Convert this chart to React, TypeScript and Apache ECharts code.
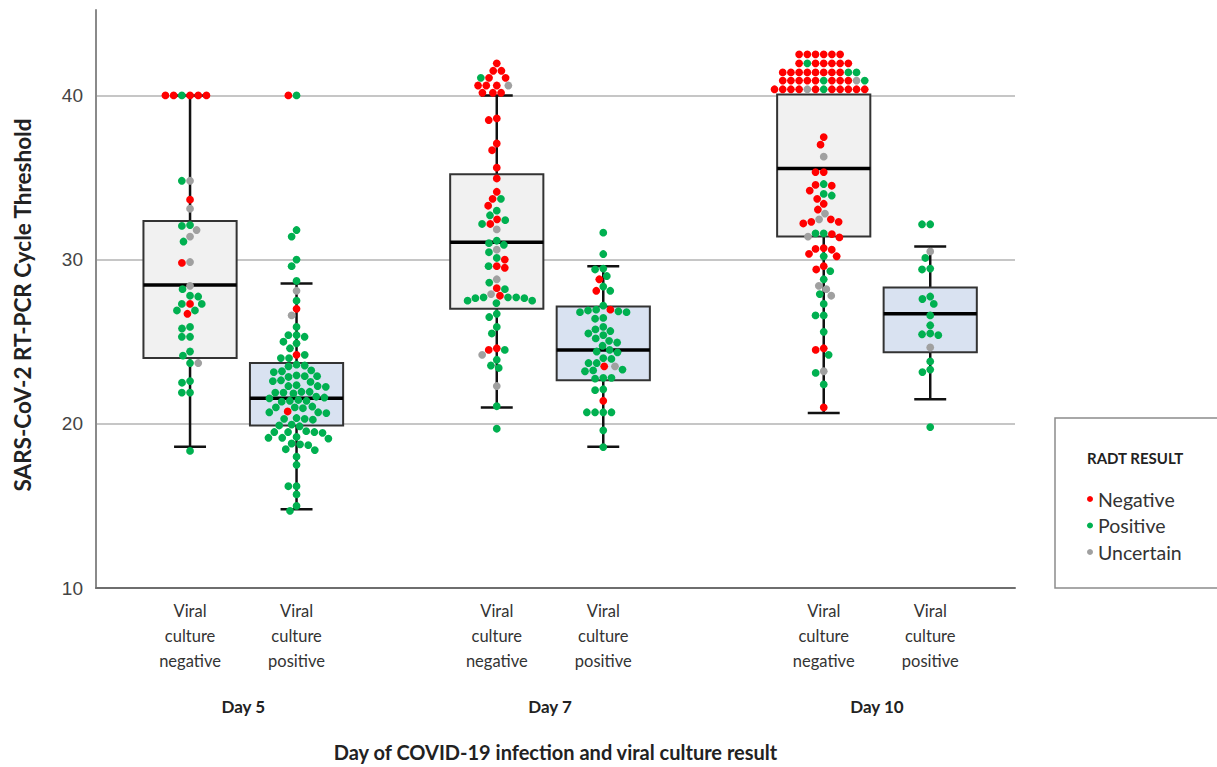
import { useEffect, useRef } from 'react';
import * as echarts from 'echarts';

type Dot = [number, 'N' | 'P' | 'U'];

// ---------- data ----------
const dayLabels = ['Day 5', 'Day 7', 'Day 10'];
const cultureLabels = ['Viral\nculture\nnegative', 'Viral\nculture\npositive'];
const legendNames = ['Negative', 'Positive', 'Uncertain'];
const resultCodes = ['N', 'P', 'U'];

// box statistics, order: D5 neg, D5 pos, D7 neg, D7 pos, D10 neg, D10 pos
const boxMin = [18.6, 14.8, 21.0, 18.6, 20.65, 21.5];
const boxQ1 = [24.0, 19.9, 27.0, 22.65, 31.4, 24.35];
const boxMedian = [28.45, 21.55, 31.05, 24.5, 35.55, 26.7];
const boxQ3 = [32.35, 23.7, 35.2, 27.15, 40.05, 28.3];
const boxMax = [40, 28.55, 40, 29.6, 40.05, 30.8];

const d5Neg: Dot[] = [
  [40, 'N'], [40, 'P'], [40, 'N'], [40, 'N'], [40, 'N'], [40, 'N'],
  [34.8, 'U'], [34.8, 'P'], [33.65, 'N'], [33.1, 'U'], [32.05, 'P'], [32.1, 'P'],
  [31.8, 'U'], [31.4, 'U'], [31.1, 'P'], [29.85, 'U'], [29.8, 'N'], [28.4, 'U'],
  [28.2, 'P'], [27.75, 'P'], [27.8, 'P'], [27.3, 'N'], [27.3, 'P'], [27.3, 'P'],
  [26.9, 'P'], [26.7, 'N'], [26.9, 'P'], [25.9, 'P'], [25.8, 'P'], [25.3, 'P'],
  [25.3, 'P'], [24.4, 'P'], [24.15, 'P'], [23.7, 'P'], [23.7, 'U'], [22.5, 'P'],
  [22.6, 'P'], [21.9, 'P'], [21.9, 'P'], [18.35, 'P'],
];
const d5Pos: Dot[] = [
  [40, 'P'], [40, 'N'], [31.8, 'P'], [31.4, 'P'], [30.0, 'P'], [29.6, 'P'],
  [28.7, 'P'], [28.1, 'U'], [27.5, 'P'], [27.0, 'N'], [26.6, 'U'], [25.9, 'P'],
  [25.4, 'P'], [25.4, 'P'], [25.3, 'P'], [24.9, 'P'], [25.0, 'P'], [24.6, 'P'],
  [24.2, 'N'], [24.2, 'P'], [24.0, 'P'], [24.0, 'P'],
  [23.55, 'P'], [23.5, 'P'], [23.6, 'P'], [23.2, 'P'], [23.25, 'P'], [23.15, 'P'],
  [22.9, 'P'], [22.95, 'P'], [22.85, 'P'], [22.9, 'P'], [22.6, 'P'], [22.55, 'P'],
  [22.65, 'P'], [22.3, 'P'], [22.3, 'P'], [22.25, 'P'], [22.35, 'P'], [21.9, 'P'],
  [21.95, 'P'], [21.85, 'P'], [21.9, 'P'], [21.95, 'P'], [21.6, 'P'], [21.55, 'P'],
  [21.65, 'P'], [21.4, 'P'], [21.35, 'P'], [21.45, 'P'], [21.4, 'P'], [21.0, 'P'],
  [21.05, 'P'], [20.95, 'P'], [21.0, 'P'], [20.75, 'N'], [20.7, 'P'], [20.65, 'P'],
  [20.7, 'P'], [20.3, 'P'], [20.35, 'P'], [20.25, 'P'], [20.3, 'P'], [19.9, 'P'],
  [19.95, 'P'], [19.85, 'P'], [19.5, 'P'], [19.55, 'P'], [19.45, 'P'], [19.5, 'P'],
  [19.5, 'P'], [19.15, 'P'], [19.2, 'P'], [19.1, 'P'], [19.15, 'P'], [18.75, 'P'],
  [18.7, 'P'], [18.8, 'P'], [18.45, 'P'], [18.4, 'P'], [18.0, 'P'], [17.5, 'P'],
  [16.2, 'P'], [16.2, 'P'], [15.7, 'P'], [15.0, 'P'], [14.7, 'P'],
];
const d7Neg: Dot[] = [
  [41.95, 'N'], [41.5, 'N'], [41.5, 'N'], [41.07, 'N'], [41.07, 'N'], [41.07, 'P'],
  [40.6, 'N'], [40.6, 'N'], [40.6, 'U'], [40.6, 'N'], [40.16, 'N'], [40.16, 'N'],
  [40.16, 'N'], [38.5, 'N'], [38.6, 'N'], [37.07, 'N'], [36.66, 'N'], [35.6, 'N'],
  [34.94, 'N'], [34.13, 'N'], [33.7, 'N'], [33.7, 'P'], [33.28, 'N'], [32.98, 'P'],
  [32.7, 'P'], [32.4, 'P'], [32.45, 'N'], [32.17, 'N'], [32.17, 'P'], [31.84, 'U'],
  [30.9, 'P'], [31.0, 'P'], [31.15, 'P'], [30.6, 'U'], [30.45, 'P'], [30.1, 'P'],
  [30.0, 'N'], [29.5, 'N'], [29.6, 'N'], [29.6, 'P'], [28.8, 'U'], [28.6, 'P'],
  [28.26, 'N'], [28.2, 'P'], [27.9, 'U'], [27.8, 'N'], [27.7, 'P'], [27.65, 'P'],
  [27.5, 'P'], [27.7, 'P'], [27.7, 'P'], [27.65, 'P'], [27.5, 'P'], [27.35, 'P'],
  [26.7, 'P'], [26.5, 'P'], [25.9, 'P'], [25.5, 'P'], [24.5, 'N'], [24.6, 'N'],
  [24.5, 'P'], [24.2, 'U'], [23.9, 'P'], [23.4, 'P'], [23.55, 'P'], [22.3, 'U'],
  [21.07, 'P'], [19.7, 'P'],
];
const d7Pos: Dot[] = [
  [31.64, 'P'], [30.34, 'P'], [29.4, 'P'], [29.45, 'P'], [29.0, 'P'], [28.8, 'N'],
  [28.36, 'P'], [28.1, 'N'], [28.1, 'P'], [27.2, 'P'], [26.8, 'P'], [26.95, 'P'],
  [26.95, 'N'], [26.9, 'P'], [26.85, 'P'], [26.8, 'P'], [26.4, 'P'], [26.45, 'P'],
  [25.9, 'P'], [25.75, 'P'], [25.65, 'P'], [25.4, 'P'], [25.5, 'P'], [25.2, 'P'],
  [25.05, 'P'], [24.95, 'P'], [24.75, 'P'], [24.5, 'P'], [24.4, 'P'], [24.35, 'P'],
  [24.0, 'P'], [23.95, 'P'], [23.7, 'P'], [23.7, 'P'], [23.5, 'N'], [23.3, 'P'],
  [23.2, 'P'], [23.5, 'U'], [23.25, 'P'], [22.8, 'P'], [22.8, 'P'], [22.75, 'P'],
  [22.1, 'P'], [22.05, 'P'], [21.4, 'N'], [20.7, 'P'], [20.7, 'P'], [20.7, 'P'],
  [20.7, 'P'], [19.6, 'P'], [18.58, 'P'],
];
const d10Neg: Dot[] = [
  [42.5, 'N'], [42.5, 'N'], [42.5, 'N'], [42.5, 'N'], [42.5, 'N'], [42.5, 'N'],
  [41.95, 'N'], [41.95, 'N'], [41.95, 'N'], [41.95, 'P'], [41.95, 'N'], [41.95, 'N'], [41.95, 'N'],
  [41.4, 'N'], [41.4, 'N'], [41.4, 'N'], [41.4, 'N'], [41.4, 'N'], [41.4, 'N'], [41.4, 'P'],
  [41.4, 'N'], [41.4, 'P'], [41.4, 'N'],
  [40.9, 'P'], [40.9, 'N'], [40.9, 'N'], [40.9, 'N'], [40.9, 'N'], [40.9, 'N'], [40.9, 'N'],
  [40.9, 'N'], [40.9, 'U'], [40.9, 'N'], [40.9, 'P'],
  [40.37, 'P'], [40.37, 'N'], [40.37, 'N'], [40.37, 'U'], [40.37, 'N'], [40.37, 'N'],
  [40.37, 'N'], [40.37, 'N'], [40.37, 'N'], [40.37, 'N'], [40.37, 'N'], [40.37, 'N'],
  [37.46, 'N'], [37.0, 'N'], [36.27, 'U'], [35.33, 'N'], [35.33, 'N'], [34.5, 'N'],
  [34.6, 'P'], [34.55, 'N'], [34.2, 'N'], [33.9, 'P'], [34.0, 'P'], [33.7, 'N'],
  [33.4, 'N'], [33.05, 'N'], [32.8, 'U'], [32.45, 'U'], [32.2, 'N'], [32.3, 'N'],
  [32.3, 'N'], [32.45, 'N'], [31.6, 'P'], [31.55, 'N'], [31.6, 'P'], [31.35, 'N'],
  [31.4, 'U'], [30.6, 'N'], [30.7, 'N'], [30.65, 'N'], [30.2, 'P'], [30.35, 'N'],
  [30.2, 'N'], [29.6, 'N'], [29.4, 'N'], [29.3, 'P'], [28.8, 'P'], [28.4, 'U'],
  [28.2, 'U'], [27.8, 'U'], [27.9, 'P'], [27.3, 'P'], [26.6, 'P'], [26.6, 'P'],
  [25.6, 'P'], [24.6, 'N'], [24.5, 'N'], [24.2, 'P'], [23.1, 'P'], [23.2, 'U'],
  [22.4, 'P'], [21.0, 'N'],
];
const d10Pos: Dot[] = [
  [32.15, 'P'], [32.15, 'P'], [30.5, 'U'], [30.1, 'P'], [29.45, 'P'], [29.4, 'P'],
  [27.75, 'P'], [27.6, 'P'], [27.3, 'P'], [26.6, 'P'], [26.0, 'P'], [25.4, 'P'],
  [25.5, 'P'], [25.45, 'P'], [24.65, 'U'], [23.8, 'P'], [23.15, 'P'], [23.3, 'P'],
  [19.8, 'P'],
];
const groupDots: Dot[][] = [d5Neg, d5Pos, d7Neg, d7Pos, d10Neg, d10Pos];

// ---------- layout ----------
const W = 1217;
const H = 767;
const GRID = { left: 96, right: 202, top: 10, bottom: 179 };
const X_MIN = 0.117;
const X_MAX = 8.746;
const Y_MIN = 10;
const Y_MAX = 45.2;
const SLOT_POS = [1, 2, 3.88, 4.88, 6.95, 7.95];
const DAY_POS = [1.5, 4.38, 7.45];
const BOX_W = 0.875;
const CAP_W = 0.3;
const DOT_SIZE = 7.8;
const DOT_GAP = 8.2;
const COLORS = ['#ff0000', '#00b050', '#a0a0a0'];

const X_SCALE = (W - GRID.left - GRID.right) / (X_MAX - X_MIN);
const Y_SCALE = (H - GRID.top - GRID.bottom) / (Y_MAX - Y_MIN);

function swarm(vals: number[]): number[] {
  const order = vals.map((_, i) => i).sort((a, b) => vals[b] - vals[a]);
  const placed: { x: number; y: number }[] = [];
  const out = new Array(vals.length).fill(0);
  for (const i of order) {
    const y = vals[i] * Y_SCALE;
    const ivs: [number, number][] = [];
    for (const p of placed) {
      const dy = Math.abs(p.y - y);
      if (dy < DOT_GAP) {
        const h = Math.sqrt(DOT_GAP * DOT_GAP - dy * dy);
        ivs.push([p.x - h, p.x + h]);
      }
    }
    const cands = [0];
    ivs.forEach(([a, b]) => cands.push(a, b));
    cands.sort((a, b) => Math.abs(a) - Math.abs(b) || a - b);
    let xx = 0;
    for (const c of cands) {
      if (ivs.every(([a, b]) => c <= a + 1e-6 || c >= b - 1e-6)) {
        xx = c;
        break;
      }
    }
    placed.push({ x: xx, y });
    out[i] = xx / X_SCALE;
  }
  return out;
}

function buildOption() {
  const boxData = SLOT_POS.map((p, i) => [p, boxMin[i], boxQ1[i], boxMedian[i], boxQ3[i], boxMax[i], i % 2]);

  const pointsByResult: number[][][] = [[], [], []];
  groupDots.forEach((dots, g) => {
    const offs = swarm(dots.map((d) => d[0]));
    dots.forEach((d, k) => {
      const r = resultCodes.indexOf(d[1]);
      pointsByResult[r].push([SLOT_POS[g] + offs[k], d[0]]);
    });
  });

  const labelFont = 'Lato, "Open Sans", sans-serif';

  return {
    animation: false,
    backgroundColor: '#ffffff',
    grid: { ...GRID, containLabel: false, outerBoundsMode: 'none' },
    legend: {
      data: legendNames,
      orient: 'vertical',
      left: 1082,
      top: 484,
      icon: 'circle',
      itemWidth: 6,
      itemHeight: 6,
      itemGap: 6.5,
      textStyle: { fontFamily: labelFont, fontSize: 19.5, color: '#333333' },
      selectedMode: false,
    },
    graphic: [
      {
        type: 'rect',
        z: -1,
        shape: { x: 1055, y: 418, width: 200, height: 170 },
        style: { fill: '#ffffff', stroke: '#8c8c8c', lineWidth: 1.5 },
      },
      {
        type: 'text',
        x: 1087,
        y: 458,
        style: {
          text: 'RADT RESULT',
          fontFamily: labelFont,
          fontWeight: 'bold',
          fontSize: 15,
          fill: '#222222',
          verticalAlign: 'middle',
        },
      },
    ],
    xAxis: [
      {
        type: 'value',
        min: X_MIN,
        max: X_MAX,
        axisLine: { show: true, onZero: false, lineStyle: { color: '#6e6e6e', width: 2 } },
        axisTick: { show: false },
        splitLine: { show: false },
        axisLabel: {
          customValues: SLOT_POS,
          formatter: (v: number) => {
            const i = SLOT_POS.findIndex((p) => Math.abs(p - v) < 1e-6);
            return i < 0 ? '' : cultureLabels[i % 2];
          },
          margin: 10,
          fontFamily: labelFont,
          fontSize: 16.5,
          lineHeight: 25,
          color: '#333333',
        },
      },
      {
        type: 'value',
        position: 'bottom',
        min: X_MIN,
        max: X_MAX,
        axisLine: { show: false, onZero: false },
        axisTick: { show: false },
        splitLine: { show: false },
        axisLabel: {
          customValues: DAY_POS,
          formatter: (v: number) => {
            const i = DAY_POS.findIndex((p) => Math.abs(p - v) < 1e-6);
            return i < 0 ? '' : dayLabels[i];
          },
          margin: 110,
          fontFamily: labelFont,
          fontWeight: 'bold',
          fontSize: 17,
          color: '#222222',
        },
        name: 'Day of COVID-19 infection and viral culture result',
        nameLocation: 'middle',
        nameGap: 154,
        nameTextStyle: { fontFamily: labelFont, fontWeight: 'bold', fontSize: 20, color: '#222222' },
      },
    ],
    yAxis: {
      type: 'value',
      min: Y_MIN,
      max: Y_MAX,
      interval: 10,
      axisLine: { show: true, lineStyle: { color: '#8a8a8a', width: 2 } },
      axisTick: { show: false },
      axisLabel: {
        showMaxLabel: false,
        formatter: (v: number) => (v % 10 === 0 ? String(v) : ''),
        margin: 13,
        fontFamily: '"Liberation Sans", Arial, sans-serif',
        fontSize: 19,
        color: '#444444',
      },
      splitLine: { show: true, showMinLine: false, showMaxLine: false, lineStyle: { color: '#c6c6c6', width: 2 } },
      name: 'SARS-CoV-2 RT-PCR Cycle Threshold',
      nameLocation: 'middle',
      nameGap: 62,
      nameTextStyle: { fontFamily: labelFont, fontWeight: 'bold', fontSize: 22.5, color: '#222222', padding: [0, 12, 0, 0] },
    },
    series: [
      {
        type: 'custom',
        name: 'boxes',
        xAxisIndex: 0,
        z: 1,
        silent: true,
        encode: { x: 0, y: [1, 2, 3, 4, 5] },
        data: boxData,
        renderItem: (_params: any, api: any) => {
          const x = api.value(0);
          const c = (v: number) => api.coord([x, v]);
          const [cx, yMin] = c(api.value(1));
          const yQ1 = c(api.value(2))[1];
          const yMed = c(api.value(3))[1];
          const yQ3 = c(api.value(4))[1];
          const yMax = c(api.value(5))[1];
          const halfW = api.size([BOX_W, 0])[0] / 2;
          const capHalf = api.size([CAP_W, 0])[0] / 2;
          const fill = api.value(6) === 0 ? '#f1f1f1' : '#d9e2f1';
          const ws = { stroke: '#111111', lineWidth: 2.5 };
          const children: any[] = [
            { type: 'line', shape: { x1: cx, y1: yQ1, x2: cx, y2: yMin }, style: ws },
            { type: 'line', shape: { x1: cx - capHalf, y1: yMin, x2: cx + capHalf, y2: yMin }, style: ws },
          ];
          if (yMax < yQ3 - 0.5) {
            children.push(
              { type: 'line', shape: { x1: cx, y1: yMax, x2: cx, y2: yQ3 }, style: ws },
              { type: 'line', shape: { x1: cx - capHalf, y1: yMax, x2: cx + capHalf, y2: yMax }, style: ws },
            );
          }
          children.push(
            {
              type: 'rect',
              shape: { x: cx - halfW, y: yQ3, width: halfW * 2, height: yQ1 - yQ3 },
              style: { fill, stroke: '#333333', lineWidth: 2 },
            },
            {
              type: 'line',
              shape: { x1: cx - halfW, y1: yMed, x2: cx + halfW, y2: yMed },
              style: { stroke: '#000000', lineWidth: 3.5 },
            },
          );
          return { type: 'group', children };
        },
      },
      ...legendNames.map((name, r) => ({
        type: 'scatter',
        name,
        xAxisIndex: 0,
        z: 3,
        symbol: 'circle',
        symbolSize: DOT_SIZE,
        itemStyle: { color: COLORS[r], opacity: 1 },
        data: pointsByResult[r],
      })),
    ],
  };
}

export default function App() {
  const ref = useRef<HTMLDivElement>(null);
  useEffect(() => {
    if (!ref.current) return;
    const chart = echarts.init(ref.current, undefined, { renderer: 'svg' });
    chart.setOption(buildOption() as any);
    return () => chart.dispose();
  }, []);
  return (
    <div
      ref={ref}
      style={{ position: 'fixed', left: 0, top: 0, width: W, height: H, background: '#ffffff' }}
    />
  );
}
